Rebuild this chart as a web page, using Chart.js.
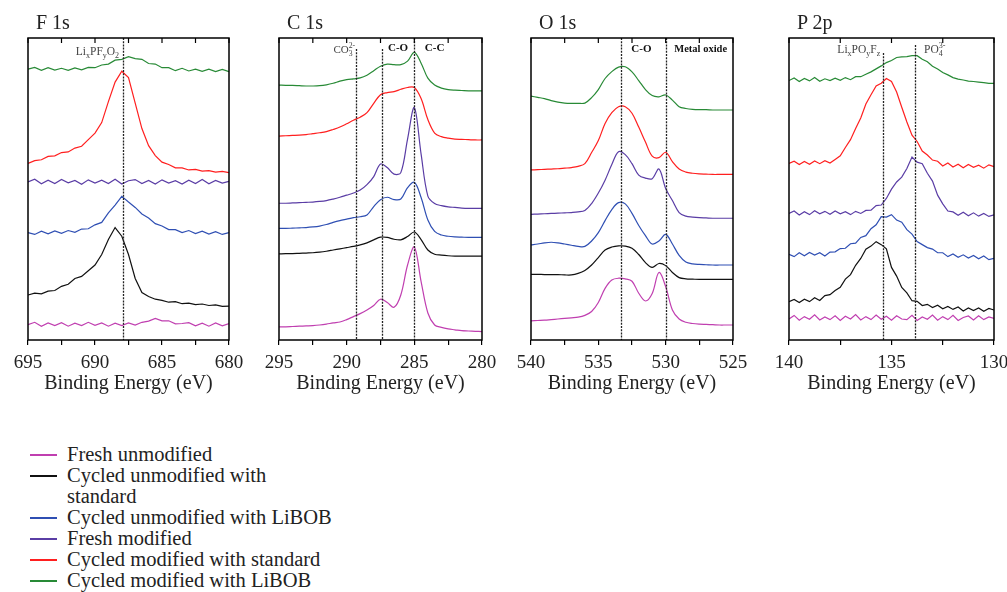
<!DOCTYPE html>
<html>
<head>
<meta charset="utf-8">
<script src="https://cdn.jsdelivr.net/npm/chart.js@4.4.1/dist/chart.umd.min.js"></script>
<style>
  body { margin: 0; background: #fff; width: 1007px; height: 592px; position: relative; overflow: hidden; font-family: "Liberation Serif", serif; color: #222; }
  canvas.panel { position: absolute; top: 0; }
  .title { position: absolute; top: 12px; font-size: 20px; line-height: 20px; color: #222; }
  #legend { position: absolute; left: 30px; top: 444px; font-size: 20.5px; line-height: 21px; color: #222; }
  .legend-item { display: flex; align-items: flex-start; }
  .legend-item .swatch { width: 27px; height: 2px; margin-top: 10px; margin-right: 10px; flex: none; }
  .legend-item .lbl { max-width: 269px; }
</style>
</head>
<body>
<div id="legend"></div>
<script>
// series, bottom to top
const seriesNames = ['Fresh unmodified', 'Cycled unmodified with standard', 'Cycled unmodified with LiBOB',
  'Fresh modified', 'Cycled modified with standard', 'Cycled modified with LiBOB'];
const seriesColors = ['#c03fb0', '#111111', '#2f4fb3', '#5a3da5', '#ff1f1f', '#288a36'];

// F 1s
const fEnergy = [695, 694.5, 694, 693.5, 693, 692.5, 692, 691.5, 691, 690.5, 690, 689.5, 689, 688.5, 688, 687.5, 687, 686.5, 686, 685.5, 685, 684.5, 684, 683.5, 683, 682.5, 682, 681.5, 681, 680.5, 680];
const fFreshUnmod = [5.1, 5.9, 4.6, 5.7, 4.8, 5.8, 4.6, 5.6, 4.8, 5.9, 4.9, 5.7, 4.6, 5.6, 4.8, 5.7, 5.0, 5.9, 6.3, 7.2, 6.4, 6.4, 5.4, 5.5, 5.8, 4.7, 5.6, 4.6, 5.7, 4.7, 5.5];
const fCycUnmodStd = [15.0, 15.6, 15.4, 16.3, 16.5, 17.9, 18.6, 20.5, 21.2, 23.1, 25.0, 28.5, 33.5, 37.5, 34.6, 28.5, 20.5, 15.8, 14.5, 13.6, 13.2, 12.6, 12.8, 12.1, 12.3, 11.8, 12.0, 11.5, 11.7, 11.2, 11.3];
const fCycUnmodLiBOB = [35.8, 35.2, 36.3, 35.4, 36.4, 35.6, 36.5, 35.9, 37.0, 37.1, 38.4, 39.2, 42.4, 45.0, 47.9, 46.0, 44.2, 42.0, 40.7, 38.8, 38.0, 36.8, 36.8, 35.8, 36.5, 35.5, 36.3, 35.3, 36.1, 35.2, 35.8];
const fFreshMod = [52.7, 53.6, 52.1, 53.3, 52.2, 53.5, 52.4, 53.2, 51.9, 53.4, 52.3, 53.3, 52.2, 53.6, 52.0, 53.1, 53.5, 52.2, 53.2, 52.0, 53.4, 52.3, 53.1, 52.0, 53.3, 52.2, 53.5, 52.1, 53.2, 52.3, 52.9];
const fCycModStd = [58.9, 59.8, 60.1, 61.2, 61.4, 62.5, 62.7, 64.0, 64.6, 66.8, 69.0, 72.5, 79.5, 86.0, 89.6, 87.5, 79.0, 70.5, 64.8, 61.5, 59.3, 58.5, 57.4, 57.4, 56.7, 56.9, 56.3, 56.5, 56.0, 56.2, 55.8];
const fCycModLiBOB = [90.3, 90.9, 89.9, 90.8, 90.0, 90.6, 89.9, 90.7, 90.1, 90.9, 90.8, 91.7, 92.0, 93.3, 93.6, 94.5, 93.8, 93.6, 92.2, 92.0, 90.8, 90.8, 89.8, 90.6, 89.7, 90.3, 89.6, 90.3, 89.5, 90.2, 89.5];
const fMarkers = [687.9];

// C 1s
const cEnergy = [295, 294.5, 294, 293.5, 293, 292.5, 292, 291.5, 291, 290.5, 290, 289.5, 289, 288.5, 288, 287.5, 287, 286.5, 286, 285.5, 285, 284.5, 284, 283.5, 283, 282.5, 282, 281.5, 281, 280.5, 280];
const cFreshUnmod = [4.4, 4.4, 4.5, 4.6, 4.7, 4.8, 5.0, 5.3, 5.7, 6.0, 6.8, 7.8, 8.8, 10.0, 11.5, 13.6, 12.5, 10.9, 15.0, 25.0, 31.0, 19.5, 9.0, 5.0, 4.2, 3.7, 3.4, 3.1, 3.0, 2.9, 2.8];
const cCycUnmodStd = [28.7, 28.8, 28.8, 28.9, 29.0, 29.1, 29.3, 29.6, 30.0, 30.4, 30.8, 31.2, 31.7, 32.4, 33.4, 34.3, 34.2, 33.6, 33.4, 34.5, 36.0, 33.5, 30.0, 28.6, 28.3, 28.1, 28.0, 28.0, 28.0, 28.0, 28.0];
const cCycUnmodLiBOB = [37.2, 37.2, 37.3, 37.4, 37.5, 37.7, 38.0, 38.5, 39.2, 39.8, 40.3, 40.8, 41.1, 41.7, 44.5, 46.8, 47.6, 46.8, 47.0, 50.8, 52.6, 47.5, 40.0, 36.2, 35.0, 34.6, 34.4, 34.3, 34.2, 34.2, 34.2];
const cFreshMod = [45.6, 45.6, 45.7, 45.8, 45.9, 46.0, 46.2, 46.5, 47.0, 47.6, 48.3, 49.0, 50.0, 51.8, 54.5, 58.7, 57.5, 55.3, 55.8, 67.0, 77.5, 62.0, 48.0, 45.5, 44.8, 44.4, 44.2, 44.0, 43.9, 43.9, 43.9];
const cCycModStd = [68.0, 68.1, 68.2, 68.3, 68.5, 68.8, 69.1, 69.5, 70.2, 71.0, 72.1, 73.3, 74.3, 75.8, 78.9, 81.8, 82.5, 82.8, 83.6, 84.2, 84.2, 80.5, 73.5, 69.0, 67.8, 67.3, 67.0, 66.9, 66.8, 66.7, 66.7];
const cCycModLiBOB = [85.0, 84.9, 84.9, 84.8, 84.7, 84.7, 84.8, 85.1, 85.6, 86.3, 86.8, 87.1, 87.4, 88.3, 89.8, 91.3, 92.0, 91.8, 91.8, 93.0, 95.9, 92.3, 87.3, 85.0, 84.0, 83.5, 83.3, 83.2, 83.1, 83.1, 83.1];
const cMarkers = [289.3, 287.4, 285.0];

// O 1s
const oEnergy = [540, 539.5, 539, 538.5, 538, 537.5, 537, 536.5, 536, 535.5, 535, 534.5, 534, 533.5, 533, 532.5, 532, 531.5, 531, 530.5, 530, 529.5, 529, 528.5, 528, 527.5, 527, 526.5, 526, 525.5, 525];
const oFreshUnmod = [6.4, 6.5, 6.6, 6.8, 7.0, 7.2, 7.4, 7.6, 8.2, 9.5, 12.5, 17.2, 20.0, 20.6, 20.4, 19.6, 15.6, 13.0, 15.5, 22.5, 17.8, 10.0, 7.0, 5.9, 5.5, 5.3, 5.2, 5.1, 5.0, 5.0, 5.0];
const oCycUnmodStd = [21.9, 21.9, 21.8, 21.8, 21.8, 21.7, 21.7, 22.2, 23.2, 25.0, 27.5, 30.0, 31.0, 31.4, 31.3, 30.6, 28.5, 25.8, 24.2, 25.5, 24.8, 22.5, 20.8, 20.4, 20.3, 20.2, 20.2, 20.2, 20.2, 20.2, 20.2];
const oCycUnmodLiBOB = [31.7, 32.0, 32.4, 32.6, 32.4, 32.0, 31.6, 31.2, 31.2, 33.0, 35.8, 39.8, 43.5, 45.8, 45.4, 42.2, 38.2, 34.8, 32.0, 33.0, 35.2, 32.0, 28.2, 26.0, 25.4, 25.2, 25.1, 25.0, 25.0, 25.0, 25.0];
const oFreshMod = [41.9, 42.0, 42.1, 42.2, 42.3, 42.4, 42.5, 42.7, 43.2, 45.5, 49.0, 53.3, 58.5, 62.8, 61.8, 58.8, 55.0, 54.0, 53.8, 57.0, 50.5, 46.5, 42.5, 41.3, 41.0, 40.8, 40.7, 40.6, 40.6, 40.6, 40.6];
const oCycModStd = [56.7, 56.8, 56.9, 57.0, 57.1, 57.3, 57.5, 57.9, 58.8, 62.5, 66.5, 72.2, 75.8, 77.8, 77.8, 75.6, 71.0, 66.0, 61.3, 60.8, 62.6, 59.5, 57.0, 56.0, 55.6, 55.4, 55.3, 55.2, 55.2, 55.2, 55.2];
const oCycModLiBOB = [81.3, 80.9, 80.5, 79.8, 79.3, 79.0, 78.9, 78.9, 79.0, 80.8, 83.5, 87.2, 89.5, 91.0, 91.1, 89.4, 86.5, 83.5, 81.5, 81.1, 81.7, 80.0, 77.8, 77.2, 76.9, 76.8, 76.8, 76.7, 76.7, 76.7, 76.7];
const oMarkers = [533.3, 530.0];

// P 2p
const pEnergy = [140, 139.75, 139.5, 139.25, 139, 138.75, 138.5, 138.25, 138, 137.75, 137.5, 137.25, 137, 136.75, 136.5, 136.25, 136, 135.75, 135.5, 135.25, 135, 134.75, 134.5, 134.25, 134, 133.75, 133.5, 133.25, 133, 132.75, 132.5, 132.25, 132, 131.75, 131.5, 131.25, 131, 130.75, 130.5, 130.25, 130];
const pFreshUnmod = [7.0, 8.2, 6.6, 7.8, 6.9, 8.4, 6.7, 7.7, 6.8, 8.1, 6.5, 7.9, 7.0, 8.5, 6.7, 7.8, 6.8, 8.3, 6.9, 7.9, 6.6, 8.1, 7.0, 6.8, 8.2, 6.5, 7.7, 6.9, 8.3, 6.6, 7.8, 6.8, 8.2, 6.5, 7.5, 8.0, 6.7, 8.1, 6.8, 7.7, 7.2];
const pCycUnmodStd = [12.8, 13.5, 12.5, 13.6, 12.8, 14.1, 13.2, 14.8, 15.1, 16.5, 17.6, 20.3, 21.8, 24.9, 27.2, 30.3, 31.3, 32.8, 31.8, 30.4, 24.2, 21.3, 17.5, 15.7, 13.1, 12.9, 11.5, 11.9, 10.8, 11.6, 10.4, 11.2, 10.2, 11.0, 9.7, 10.7, 9.8, 10.7, 9.6, 10.5, 10.0];
const pCycUnmodLiBOB = [28.6, 27.8, 29.1, 28.1, 29.2, 28.3, 29.1, 28.0, 29.3, 29.4, 30.5, 30.6, 32.1, 32.3, 34.2, 34.8, 37.1, 38.4, 41.1, 41.0, 41.8, 40.0, 39.3, 36.8, 35.3, 32.8, 31.8, 30.8, 30.3, 29.1, 29.1, 27.8, 28.7, 27.6, 28.4, 27.3, 28.2, 27.1, 28.0, 26.8, 27.2];
const pFreshMod = [42.2, 43.0, 41.7, 42.8, 41.8, 43.1, 42.1, 42.9, 41.9, 43.0, 42.1, 42.8, 41.8, 42.9, 42.2, 43.2, 43.3, 44.8, 45.0, 47.2, 50.3, 52.7, 54.3, 57.2, 61.0, 59.3, 58.8, 55.6, 53.0, 48.3, 45.4, 43.0, 42.7, 41.6, 42.6, 41.4, 42.4, 41.3, 42.2, 41.2, 41.7];
const pCycModStd = [58.9, 59.6, 58.5, 59.5, 58.6, 59.7, 58.8, 59.8, 59.0, 60.2, 61.4, 64.2, 66.8, 70.5, 74.0, 78.7, 81.8, 84.7, 85.6, 87.2, 86.2, 82.7, 77.6, 72.7, 68.3, 66.2, 63.0, 61.7, 60.0, 59.6, 58.0, 59.0, 57.7, 58.6, 57.4, 58.5, 57.6, 58.3, 57.3, 58.4, 57.8];
const pCycModLiBOB = [86.5, 87.4, 86.2, 87.2, 86.4, 87.5, 86.3, 87.1, 86.5, 87.3, 86.6, 87.5, 86.8, 87.8, 87.8, 88.6, 89.4, 90.4, 91.4, 92.5, 93.2, 94.2, 94.4, 94.5, 94.8, 94.8, 93.6, 92.8, 91.3, 90.4, 89.2, 88.4, 87.5, 87.0, 86.7, 86.3, 86.2, 86.0, 85.8, 85.6, 85.6];
const pMarkers = [135.4, 133.85];

const FONT = '"Liberation Serif", serif';

// label parts: [text] normal, [text, 'sub', sup?] small stacked
const panels = [
  { title: 'F 1s', energy: fEnergy, min: 680, max: 695, left: 28, right: 229, tension: 0,
    series: [fFreshUnmod, fCycUnmodStd, fCycUnmodLiBOB, fFreshMod, fCycModStd, fCycModLiBOB],
    markers: fMarkers, markerTops: [0],
    labels: [{ at: 687.9, dx: -4, y: 17, align: 'right', size: 11.5, color: '#444',
      parts: [['Li'], ['x', 'sub'], ['PF'], ['y', 'sub'], ['O'], ['2', 'sub']] }] },
  { title: 'C 1s', energy: cEnergy, min: 280, max: 295, left: 279, right: 482, tension: 0.35,
    series: [cFreshUnmod, cCycUnmodStd, cCycUnmodLiBOB, cFreshMod, cCycModStd, cCycModLiBOB],
    markers: cMarkers, markerTops: [11, 11, 0],
    labels: [
      { at: 289.3, dx: -1, y: 15, align: 'right', size: 11, color: '#444', parts: [['CO'], ['3', 'sub', '2-']] },
      { at: 286.2, dx: 0, y: 13, align: 'center', size: 11, bold: true, color: '#111', parts: [['C-O']] },
      { at: 283.5, dx: 0, y: 13, align: 'center', size: 11, bold: true, color: '#111', parts: [['C-C']] }] },
  { title: 'O 1s', energy: oEnergy, min: 525, max: 540, left: 531, right: 733, tension: 0.35,
    series: [oFreshUnmod, oCycUnmodStd, oCycUnmodLiBOB, oFreshMod, oCycModStd, oCycModLiBOB],
    markers: oMarkers, markerTops: [0, 0],
    labels: [
      { at: 531.8, dx: 0, y: 14, align: 'center', size: 11, bold: true, color: '#111', parts: [['C-O']] },
      { at: 527.4, dx: 0, y: 14, align: 'center', size: 10.5, bold: true, color: '#111', parts: [['Metal oxide']] }] },
  { title: 'P 2p', energy: pEnergy, min: 130, max: 140, left: 789, right: 994, tension: 0,
    series: [pFreshUnmod, pCycUnmodStd, pCycUnmodLiBOB, pFreshMod, pCycModStd, pCycModLiBOB],
    markers: pMarkers, markerTops: [15, 7],
    labels: [
      { at: 135.4, dx: -3, y: 15, align: 'right', size: 11.5, color: '#444', parts: [['Li'], ['x', 'sub'], ['PO'], ['y', 'sub'], ['F'], ['z', 'sub']] },
      { at: 133.85, dx: 9, y: 15, align: 'left', size: 11.5, color: '#444', parts: [['PO'], ['4', 'sub', '3-']] }] }
];

function drawRich(ctx, lab, x, y) {
  const font = s => (lab.bold ? 'bold ' : '') + s + 'px ' + FONT;
  const small = lab.size * 0.7;
  const widths = lab.parts.map(p => {
    if (p.length === 1) { ctx.font = font(lab.size); return ctx.measureText(p[0]).width; }
    ctx.font = font(small);
    return Math.max(ctx.measureText(p[0]).width, p[2] ? ctx.measureText(p[2]).width : 0);
  });
  const w = widths.reduce((a, b) => a + b, 0);
  let cx = lab.align === 'right' ? x - w : lab.align === 'center' ? x - w / 2 : x;
  ctx.fillStyle = lab.color;
  ctx.textAlign = 'left';
  ctx.textBaseline = 'alphabetic';
  lab.parts.forEach((p, i) => {
    if (p.length === 1) { ctx.font = font(lab.size); ctx.fillText(p[0], cx, y); }
    else {
      ctx.font = font(small);
      ctx.fillText(p[0], cx, y + lab.size * 0.25);
      if (p[2]) ctx.fillText(p[2], cx, y - lab.size * 0.42);
    }
    cx += widths[i];
  });
}

const framePlugin = {
  id: 'frame',
  afterDatasetsDraw(chart) {
    const { ctx, chartArea: a, scales: { x } } = chart;
    const p = chart.options.plugins.frame.panel;
    ctx.save();
    // reference lines
    ctx.strokeStyle = '#222';
    ctx.lineWidth = 1.3;
    ctx.setLineDash([2, 1.2]);
    p.markers.forEach((m, i) => {
      const px = Math.round(x.getPixelForValue(m)) + 0.5;
      ctx.beginPath();
      ctx.moveTo(px, a.top + p.markerTops[i]);
      ctx.lineTo(px, a.bottom);
      ctx.stroke();
    });
    ctx.setLineDash([]);
    // box
    ctx.strokeStyle = '#000';
    ctx.lineWidth = 1.5;
    ctx.strokeRect(a.left, a.top, a.width, a.height);
    // inward ticks on top
    ctx.lineWidth = 1.2;
    x.ticks.forEach(t => {
      const px = x.getPixelForValue(t.value);
      ctx.beginPath();
      ctx.moveTo(px, a.top);
      ctx.lineTo(px, a.top + 5);
      ctx.stroke();
    });
    p.labels.forEach(l => drawRich(ctx, l, x.getPixelForValue(l.at) + l.dx, a.top + l.y));
    ctx.restore();
  }
};

panels.forEach(p => {
  const padL = 24, padR = 24;
  const canvas = document.createElement('canvas');
  canvas.className = 'panel';
  canvas.width = (p.right - p.left) + padL + padR;
  canvas.height = 400;
  canvas.style.left = (p.left - padL) + 'px';
  document.body.appendChild(canvas);

  const t = document.createElement('div');
  t.className = 'title';
  t.textContent = p.title;
  t.style.left = (p.left + 8) + 'px';
  document.body.appendChild(t);

  new Chart(canvas, {
    type: 'line',
    data: {
      datasets: p.series.map((vals, i) => ({
        label: seriesNames[i],
        data: vals.map((v, k) => ({ x: p.energy[k], y: v })),
        borderColor: seriesColors[i],
        borderWidth: 1.2,
        pointRadius: 0,
        tension: p.tension,
        fill: false
      }))
    },
    options: {
      responsive: false,
      animation: false,
      devicePixelRatio: 1,
      layout: { padding: { top: 38, left: padL, right: padR, bottom: 0 } },
      plugins: { legend: { display: false }, tooltip: { enabled: false }, frame: { panel: p } },
      scales: {
        x: {
          type: 'linear', reverse: true, min: p.min, max: p.max,
          border: { display: false },
          grid: { drawOnChartArea: false, drawTicks: true, tickLength: 5, color: '#000', lineWidth: 1.2 },
          ticks: { stepSize: 2.5, autoSkip: false, maxRotation: 0, color: '#222', padding: 7,
            font: { family: FONT, size: 19 },
            callback: v => (v % 5 === 0 ? String(v) : '') },
          title: { display: true, text: 'Binding Energy (eV)', color: '#222', padding: { top: 0, bottom: 4 },
            font: { family: FONT, size: 20 } },
          afterFit: s => { s.height = 60; }
        },
        y: { display: false, min: 0, max: 100.7 }
      }
    },
    plugins: [framePlugin]
  });
});

// manual legend
const legendDiv = document.getElementById('legend');
seriesNames.forEach((name, i) => {
  const entry = document.createElement('div');
  entry.classList.add('legend-item');
  entry.innerHTML = `<span class="swatch" style="background:${seriesColors[i]}"></span><span class="lbl">${name}</span>`;
  legendDiv.appendChild(entry);
});
</script>
</body>
</html>
